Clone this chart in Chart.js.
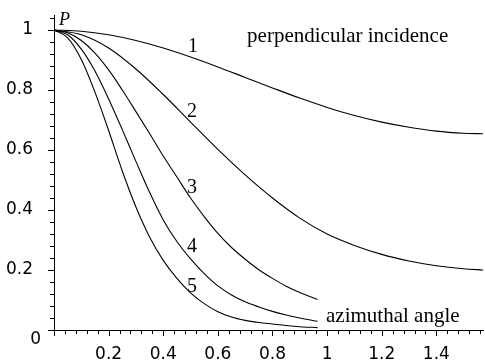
<!DOCTYPE html>
<html lang="en">
<head>
<meta charset="UTF-8">
<title>P versus azimuthal angle</title>
<script src="https://cdn.jsdelivr.net/npm/chart.js"></script>
<style>
  body { margin: 0; background: #fff; }
</style>
</head>
<body>
<canvas id="chartP" width="485" height="364"></canvas>
<script>
// azimuthal angle (rad) for the curves 1 and 2 (they run to pi/2)
const anglesLong = [0, 0.1, 0.2, 0.3, 0.4, 0.5, 0.6, 0.7, 0.8, 0.9, 1.0, 1.1, 1.2, 1.3, 1.4, 1.5, 1.5708];
// curves 3, 4, 5 stop a bit before 1
const anglesShort = [0, 0.05, 0.1, 0.15, 0.2, 0.25, 0.3, 0.35, 0.4, 0.45, 0.5, 0.55, 0.6, 0.65, 0.7, 0.75, 0.8, 0.85, 0.9, 0.965];

// P
const curve1 = [1, 0.996, 0.984, 0.965, 0.94, 0.91, 0.877, 0.842, 0.807, 0.773, 0.742, 0.715, 0.693, 0.676, 0.663, 0.656, 0.654];
const curve2 = [1, 0.984, 0.94, 0.87, 0.785, 0.693, 0.602, 0.517, 0.44, 0.373, 0.32, 0.282, 0.252, 0.23, 0.214, 0.204, 0.2];
const curve3 = [1, 0.991, 0.965, 0.923, 0.867, 0.80, 0.728, 0.655, 0.58, 0.51, 0.44, 0.378, 0.322, 0.275, 0.236, 0.201, 0.172, 0.146, 0.125, 0.102];
const curve4 = [1, 0.984, 0.936, 0.863, 0.77, 0.668, 0.562, 0.459, 0.367, 0.295, 0.237, 0.188, 0.147, 0.117, 0.094, 0.077, 0.062, 0.05, 0.04, 0.029];
const curve5 = [1, 0.974, 0.902, 0.793, 0.665, 0.53, 0.41, 0.31, 0.232, 0.172, 0.124, 0.088, 0.061, 0.043, 0.032, 0.025, 0.02, 0.015, 0.011, 0.008];

const curveNames = ['1', '2', '3', '4', '5'];
const xTickLabels = ['0.2', '0.4', '0.6', '0.8', '1', '1.2', '1.4'];
const yTickLabels = ['0.2', '0.4', '0.6', '0.8', '1'];

function pairs(xs, ys) {
    return ys.map((y, i) => ({ x: xs[i], y: y }));
}

function isMajor(v) {
    return Math.abs(v / 0.2 - Math.round(v / 0.2)) < 1e-6;
}

function fmt(v) {
    return String(Math.round(v * 10) / 10);
}

// little tick marks, long ones on 0.2 steps, short ones in between
const tickMarks = {
    id: 'tickMarks',
    afterDraw(chart) {
        const ctx = chart.ctx;
        const xs = chart.scales.x, ys = chart.scales.y;
        ctx.save();
        ctx.strokeStyle = '#000';
        ctx.lineWidth = 1;
        ctx.beginPath();
        xs.ticks.forEach(t => {
            const px = Math.round(xs.getPixelForValue(t.value)) + 0.5;
            const len = isMajor(t.value) ? 6 : 4;
            ctx.moveTo(px, xs.top);
            ctx.lineTo(px, xs.top + len);
        });
        ys.ticks.forEach(t => {
            const py = Math.round(ys.getPixelForValue(t.value)) + 0.5;
            const len = isMajor(t.value) ? 6 : 4;
            ctx.moveTo(ys.right, py);
            ctx.lineTo(ys.right - len, py);
        });
        ctx.stroke();
        ctx.restore();
    }
};

// texts written in the plot
const plotTexts = {
    id: 'plotTexts',
    afterDraw(chart) {
        const ctx = chart.ctx;
        const xs = chart.scales.x, ys = chart.scales.y;
        const X = v => xs.getPixelForValue(v);
        const Y = v => ys.getPixelForValue(v);
        ctx.save();
        ctx.fillStyle = '#000';

        // curve numbers
        ctx.font = '20px "Liberation Serif"';
        ctx.textAlign = 'center';
        ctx.textBaseline = 'middle';
        const spots = [[0.509, 0.943], [0.505, 0.727], [0.505, 0.473], [0.505, 0.277], [0.505, 0.143]];
        curveNames.forEach((n, i) => ctx.fillText(n, X(spots[i][0]), Y(spots[i][1])));

        ctx.font = '21px "Liberation Serif"';
        ctx.textAlign = 'left';
        ctx.textBaseline = 'alphabetic';
        ctx.fillText('perpendicular incidence', X(0.707), Y(0.96));
        ctx.fillText('azimuthal angle', X(0.996), Y(0.027));

        ctx.font = 'italic 18px "Liberation Serif"';
        ctx.fillText('P', X(0.018), Y(1.017));

        // the origin label sits a little below its tick
        ctx.font = '17px "DejaVu Sans"';
        ctx.textAlign = 'right';
        ctx.textBaseline = 'middle';
        ctx.fillText('0', ys.right - 13, Y(0) + 10);
        ctx.restore();
    }
};

Chart.defaults.font.family = '"DejaVu Sans"';
Chart.defaults.font.size = 17;
Chart.defaults.color = '#000';

const line = data => ({
    data: data,
    borderColor: '#000',
    borderWidth: 1.1,
    pointRadius: 0,
    fill: false,
    cubicInterpolationMode: 'monotone'
});

const noPad = s => {
    s.paddingTop = 0;
    s.paddingBottom = 0;
    s.paddingLeft = 0;
    s.paddingRight = 0;
};

new Chart(document.getElementById('chartP'), {
    type: 'line',
    data: {
        datasets: [
            line(pairs(anglesLong, curve1)),
            line(pairs(anglesLong, curve2)),
            line(pairs(anglesShort, curve3)),
            line(pairs(anglesShort, curve4)),
            line(pairs(anglesShort, curve5))
        ]
    },
    options: {
        responsive: false,
        animation: false,
        layout: { padding: { top: 15, right: 2, left: 0, bottom: 0 } },
        plugins: { legend: { display: false }, tooltip: { enabled: false } },
        scales: {
            x: {
                type: 'linear',
                min: 0,
                max: 1.5708,
                grid: { display: false },
                border: { display: true, color: '#000', width: 1 },
                ticks: {
                    stepSize: 0.04,
                    includeBounds: false,
                    autoSkip: false,
                    maxRotation: 0,
                    padding: 6,
                    callback: v => xTickLabels.includes(fmt(v)) && isMajor(v) ? fmt(v) : ''
                },
                afterFit: s => { s.height = 34; noPad(s); }
            },
            y: {
                type: 'linear',
                min: 0,
                max: 1.05,
                grid: { display: false },
                border: { display: true, color: '#000', width: 1 },
                ticks: {
                    stepSize: 0.04,
                    includeBounds: false,
                    autoSkip: false,
                    padding: 13,
                    callback: v => yTickLabels.includes(fmt(v)) && isMajor(v) ? fmt(v) : ''
                },
                afterFit: s => { s.width = 54; noPad(s); }
            }
        }
    },
    plugins: [tickMarks, plotTexts]
});
</script>
</body>
</html>
